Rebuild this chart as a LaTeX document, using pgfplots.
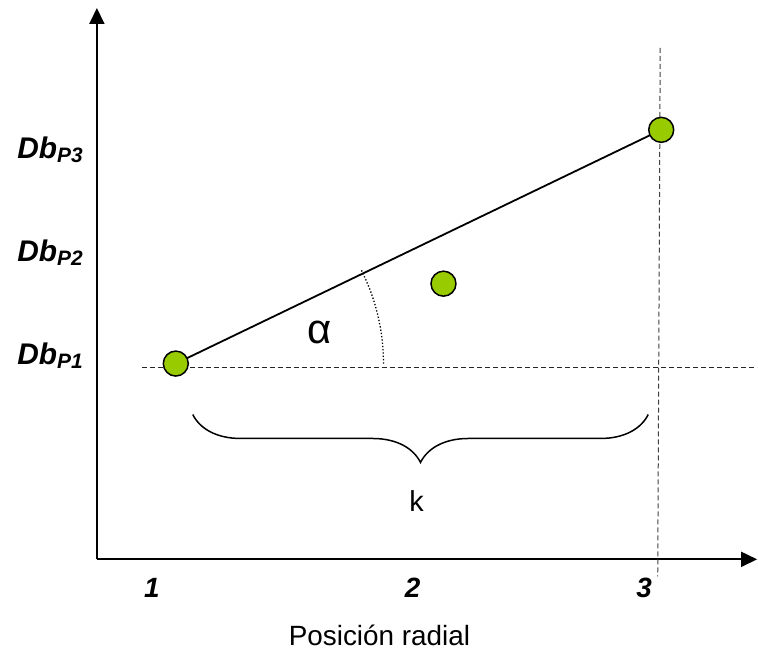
\documentclass[border=0pt]{standalone}
\usepackage{pgfplots}
\pgfplotsset{compat=1.18}
\usepackage{fontspec}
\setmainfont{Liberation Sans}
\usetikzlibrary{arrows.meta,decorations.pathreplacing}
\definecolor{ptgreen}{HTML}{99CC00}
\newcommand{\Db}[1]{{\fontsize{30}{30}\selectfont\bfseries\itshape Db\raisebox{-4bp}{\fontsize{21}{21}\selectfont P#1}}}
\newcommand{\Tk}[1]{{\bfseries\itshape #1}}
\begin{document}
\begin{tikzpicture}
\begin{axis}[
  scale only axis, width=661bp, height=552bp,
  xmin=97, xmax=758, ymin=92, ymax=644,
  axis lines=left,
  axis line style={line width=1.8bp, -{Triangle[length=16bp,width=15bp]}},
  clip=false,
  xtick={152,413,645},
  xticklabels={\Tk{1},\Tk{2},\Tk{3}},
  ytick={287,390,493},
  yticklabels={\Db{1},\Db{2},\Db{3}},
  major tick length=0pt,
  tick style={draw=none},
  xticklabel style={font=\fontsize{28}{28}\selectfont, inner sep=0pt, anchor=north, yshift=-19bp},
  yticklabel style={inner sep=0pt, anchor=base east, xshift=-14bp},
  xlabel={Posición radial},
  xlabel style={at={(rel axis cs:0.428,-0.156)}, anchor=base, inner sep=0pt, font=\fontsize{28}{28}\selectfont},
]
\path (axis cs:0,0) rectangle (axis cs:758,652);
% reference lines
\addplot[black!85, line width=1bp, dash pattern=on 5bp off 3bp] coordinates {(142,284) (758,284)};
\addplot[black!75, line width=1bp, dash pattern=on 5bp off 3bp] coordinates {(661,604) (658.5,75)};
% angle arc
\addplot[black, line width=1.3bp, dotted, smooth] coordinates {
  (384,288) (383.2,306.1) (380.8,324.1) (376.9,341.8) (371.5,359.1) (364.5,375.9) (361.3,382.4)};
% line P1-P3
\addplot[black, line width=1.8bp] coordinates {(176,288) (662,522)};
% brace
\addplot[black, line width=1.5bp, decorate, decoration={brace, mirror, amplitude=48bp}] coordinates {(193,237) (649,237)};
% points
\addplot[only marks, mark=*, mark size=12.5bp, mark options={fill=ptgreen, draw=black, line width=1.5bp}] coordinates {(176,288) (444,368) (662,522)};
\node at (axis cs:320,319) {\fontsize{42}{42}\selectfont α};
\node at (axis cs:417,150) {\fontsize{29}{29}\selectfont k};
\end{axis}
\end{tikzpicture}
\end{document}
